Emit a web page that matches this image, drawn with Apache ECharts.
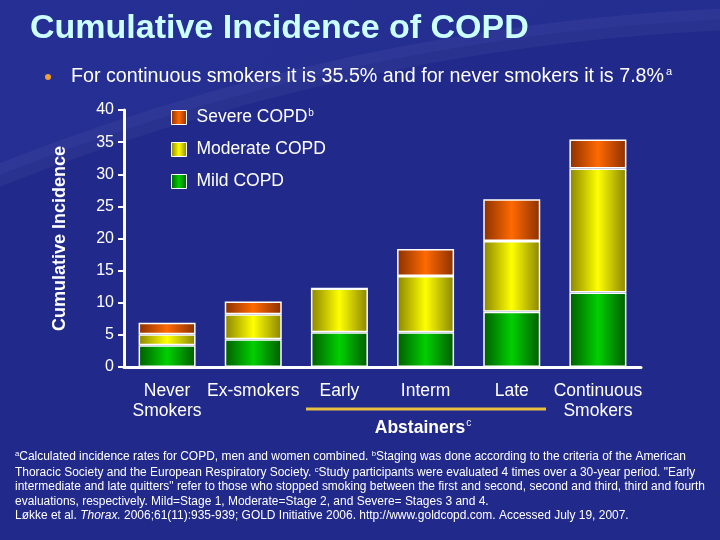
<!DOCTYPE html>
<html>
<head>
<meta charset="utf-8">
<script src="https://cdn.jsdelivr.net/npm/echarts@6/dist/echarts.min.js"></script>
<style>html,body{margin:0;padding:0;background:#20298a;}#c{width:720px;height:540px;}</style>
</head>
<body>
<div id="c"></div>
<script>
var categories = ['Never\nSmokers', 'Ex-smokers', 'Early', 'Interm', 'Late', 'Continuous\nSmokers'];
var mildValues = [3.4, 4.3, 5.4, 5.4, 8.6, 11.6];
var moderateValues = [1.7, 3.9, 6.8, 8.75, 11.0, 19.3];
var severeValues = [1.8, 2.0, 0, 4.2, 6.5, 4.5];
var yTicks = [0, 5, 10, 15, 20, 25, 30, 35, 40];

var FONT = '"Liberation Sans", Arial, sans-serif';
function grad(edge, mid) {
  return new echarts.graphic.LinearGradient(0, 0, 1, 0, [
    {offset: 0, color: edge}, {offset: 0.5, color: mid}, {offset: 1, color: edge}
  ]);
}
var footLines = [
  '{s|a}Calculated incidence rates for COPD, men and women combined. {s|b}Staging was done according to the criteria of the American',
  'Thoracic Society and the European Respiratory Society. {s|c}Study participants were evaluated 4 times over a 30-year period. "Early',
  'intermediate and late quitters" refer to those who stopped smoking between the first and second, second and third, third and fourth',
  'evaluations, respectively. Mild=Stage 1, Moderate=Stage 2, and Severe= Stages 3 and 4.',
  'Løkke et al. {i|Thorax.} 2006;61(11):935-939; GOLD Initiative 2006. http://www.goldcopd.com. Accessed July 19, 2007.'
];
var cv = document.createElement('canvas').getContext('2d');
cv.font = '12.5px ' + FONT;
var w3 = cv.measureText(footLines[2]).width;
var footScale = 690 / w3;

var chart = echarts.init(document.getElementById('c'), null, {renderer: 'canvas'});
var bar = function (name, data, edge, mid) {
  return {
    name: name, type: 'bar', stack: 'a', data: data, barWidth: 57,
    itemStyle: {color: grad(edge, mid), borderColor: '#ffffff', borderWidth: 1.5},
    emphasis: {disabled: true}
  };
};
var graphics = [
  {type: 'circle', silent: true, z: -6, shape: {cx: 826, cy: 2257, r: 2240},
   style: {fill: '#21298a', stroke: 'rgba(255,255,255,0.045)', lineWidth: 22}},
  {type: 'text', x: 30, y: 29, style: {text: 'Cumulative Incidence of COPD', fill: '#ccffff',
    font: 'bold 34px ' + FONT, verticalAlign: 'middle'}},
  {type: 'circle', shape: {cx: 48, cy: 77, r: 3}, style: {fill: '#f0a030'}},
  {type: 'text', x: 71, y: 77, style: {text: 'For continuous smokers it is 35.5% and for never smokers it is 7.8%{s|a}',
    fill: '#ffffff', font: '19.7px ' + FONT, verticalAlign: 'middle',
    rich: {s: {fontSize: 11, padding: [0, 0, 10, 2], fill: '#ffffff'}}}},
  {type: 'line', shape: {x1: 306, y1: 409, x2: 546, y2: 409}, style: {stroke: '#e8c040', lineWidth: 3}},
  {type: 'text', x: 423, y: 428, style: {text: 'Abstainers{s|c}', fill: '#ffffff', font: 'bold 17.5px ' + FONT,
    align: 'center', verticalAlign: 'middle',
    rich: {s: {fontSize: 10, padding: [0, 0, 9, 1], fill: '#ffffff'}}}}
];
var footY = [457, 472.5, 487, 501.5, 516];
footLines.forEach(function (t, i) {
  graphics.push({type: 'text', x: 15, y: footY[i], scaleX: footScale, style: {
    text: t, fill: '#ffffff', font: '12.5px ' + FONT, verticalAlign: 'middle',
    rich: {s: {fontSize: 8, padding: [0, 0, 6, 0], fill: '#ffffff'},
           i: {fontStyle: 'italic', fontSize: 12.5, fill: '#ffffff'}}
  }});
});

chart.setOption({
  backgroundColor: new echarts.graphic.LinearGradient(0, 0, 1, 1, [
    {offset: 0, color: '#262f93'}, {offset: 1, color: '#232c8e'}
  ]),
  animation: false,
  textStyle: {fontFamily: FONT},
  grid: {left: 124, right: 79, top: 110, bottom: 173},
  legend: {
    orient: 'vertical', left: 166, top: 103, itemWidth: 15, itemHeight: 14, itemGap: 14, icon: 'rect',
    data: ['Severe COPD', 'Moderate COPD', 'Mild COPD'],
    itemStyle: {borderColor: '#ffffff', borderWidth: 1},
    selectedMode: false,
    formatter: function (n) { return n === 'Severe COPD' ? '{n|Severe COPD}{s|b}' : '{n|' + n + '}'; },
    textStyle: {color: '#ffffff', fontSize: 17.5, padding: [0, 0, 0, 5],
      rich: {n: {color: '#ffffff', fontSize: 17.5, fontFamily: FONT},
             s: {color: '#ffffff', fontSize: 10, padding: [0, 0, 9, 1], fontFamily: FONT}}}
  },
  xAxis: {
    type: 'category', data: categories,
    axisLine: {lineStyle: {color: '#ffffff', width: 3}},
    axisTick: {show: false},
    axisLabel: {color: '#ffffff', fontSize: 17.5, lineHeight: 20, margin: 14, interval: 0}
  },
  yAxis: {
    type: 'value', min: 0, max: 40, interval: 5,
    name: 'Cumulative Incidence', nameLocation: 'middle', nameGap: 55, nameRotate: 90,
    nameTextStyle: {color: '#ffffff', fontSize: 18, fontWeight: 'bold'},
    axisLine: {show: true, lineStyle: {color: '#ffffff', width: 3}},
    axisTick: {show: true, length: 6, lineStyle: {color: '#ffffff', width: 2}},
    splitLine: {show: false},
    axisLabel: {color: '#ffffff', fontSize: 16, margin: 10,
      formatter: function (v) { return yTicks.indexOf(v) >= 0 ? String(v) : ''; }}
  },
  series: [
    bar('Mild COPD', mildValues, '#005c00', '#00d000'),
    bar('Moderate COPD', moderateValues, '#8a8400', '#ffff00'),
    bar('Severe COPD', severeValues, '#8a3000', '#ff6a00')
  ],
  graphic: graphics
});
</script>
</body>
</html>
